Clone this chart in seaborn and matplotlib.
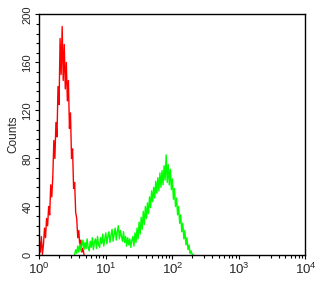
import numpy as np
import pandas as pd
import seaborn as sns
import matplotlib
matplotlib.use("Agg")
import matplotlib.pyplot as plt
from matplotlib.ticker import LogLocator, MultipleLocator, FixedLocator

# Histogram data: 256 log channels spanning 4 decades (10^0 .. 10^4)
n_channels = 256
decades = 4

red_start = 0
red_counts = [12, 2, 15, 0, 8, 22, 14, 30, 24, 40, 33, 58, 48, 65, 95, 80, 110, 98, 140,
              125, 180, 150, 190, 145, 175, 138, 160, 128, 145, 105, 118, 80, 88, 55, 60,
              35, 30, 14, 20, 6, 12, 2, 5, 0]

green_start = 34
green_counts = [0, 4, 1, 7, 2, 9, 3, 8, 12, 4,
                10, 5, 13, 6, 3, 11, 6, 14, 4, 10,
                13, 5, 15, 8, 6, 14, 9, 17, 7, 13,
                18, 9, 15, 19, 10, 16, 21, 11, 17, 22,
                12, 19, 24, 13, 20, 15, 11, 19, 10, 15,
                7, 14, 8, 13, 6, 12, 15, 7, 18, 10,
                22, 13, 27, 17, 31, 21, 36, 25, 40, 30,
                43, 34, 48, 39, 53, 44, 56, 47, 61, 51,
                64, 53, 68, 56, 70, 58, 74, 62, 83, 60,
                75, 58, 71, 54, 63, 46, 55, 40, 47, 33,
                40, 26, 33, 19, 26, 13, 20, 8, 14, 4,
                8, 1, 3, 0, 0]

y_ticks = [0, 40, 80, 120, 160, 200]
series_colors = {"isotype": "#ff0000", "sample": "#00ff00"}


def to_frame(name, start, counts):
    ch = np.arange(start, start + len(counts))
    return pd.DataFrame({
        "intensity": 10 ** (ch * decades / n_channels),
        "count": counts,
        "series": name,
    })


df = pd.concat([to_frame("isotype", red_start, red_counts),
                to_frame("sample", green_start, green_counts)], ignore_index=True)

sns.set_style("ticks")
plt.rcParams["font.family"] = ["Liberation Sans", "DejaVu Sans"]

fig = plt.figure(figsize=(3.21, 2.83), dpi=100)
ax = fig.add_axes([0.1224, 0.1007, 0.8293, 0.8481])

sns.lineplot(data=df, x="intensity", y="count", hue="series", palette=series_colors,
             estimator=None, sort=False, units="series", linewidth=1.0, legend=False, ax=ax)

ax.set_xscale("log")
ax.set_xlim(1, 1e4)
ax.set_ylim(0, 200)
ax.set_xlabel("")
ax.set_ylabel("Counts", fontsize=8.5, labelpad=2)

ax.xaxis.set_major_locator(LogLocator(base=10, numticks=10))
ax.xaxis.set_minor_locator(LogLocator(base=10, subs=np.arange(2, 10), numticks=20))
ax.yaxis.set_major_locator(FixedLocator(y_ticks))
ax.yaxis.set_minor_locator(MultipleLocator(8))

ax.tick_params(axis="both", which="major", length=3, width=0.8, pad=2,
               direction="out", color="black")
ax.tick_params(axis="x", which="major", labelsize=9.5)
ax.tick_params(axis="y", which="major", labelsize=8)
ax.tick_params(axis="both", which="minor", length=2, width=0.8, direction="out", color="black")
for lab in ax.get_yticklabels():
    lab.set_rotation(90)
    lab.set_va("center")
for sp in ax.spines.values():
    sp.set_visible(True)
    sp.set_color("black")
    sp.set_linewidth(1.0)

fig.savefig("out.png", dpi=100)
